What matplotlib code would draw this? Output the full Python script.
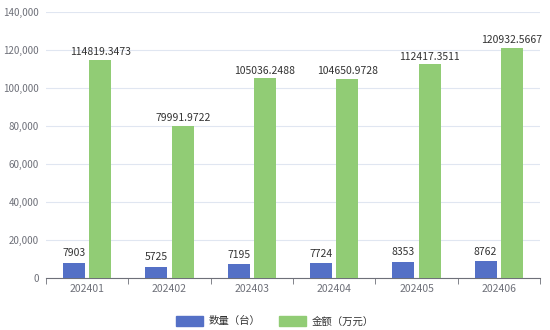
import numpy as np
import matplotlib
matplotlib.use("Agg")
import matplotlib.pyplot as plt
from matplotlib.patches import Patch

plt.rcParams['font.family'] = ['Noto Sans CJK SC', 'DejaVu Sans']

months = ["202401", "202402", "202403", "202404", "202405", "202406"]
qty = [7903, 5725, 7195, 7724, 8353, 8762]
amount = [114819.3473, 79991.9722, 105036.2488, 104650.9728, 112417.3511, 120932.5667]
qty_labels = ["7903", "5725", "7195", "7724", "8353", "8762"]
amount_labels = ["114819.3473", "79991.9722", "105036.2488", "104650.9728", "112417.3511", "120932.5667"]

blue = "#5470c6"
green = "#91cc75"

fig = plt.figure(figsize=(5.5, 3.3), dpi=100)
ax = fig.add_axes([46 / 550, 52 / 330, 494 / 550, 266 / 330])

x = np.arange(len(months))
w = 0.27
gap = 0.025
b1 = ax.bar(x - w / 2 - gap, qty, width=w, color=blue, zorder=3)
b2 = ax.bar(x + w / 2 + gap, amount, width=w, color=green, zorder=3)

for rect, lab in zip(b1, qty_labels):
    ax.text(rect.get_x() + rect.get_width() / 2, rect.get_height() + 2500, lab,
            ha="center", va="bottom", fontsize=7.5, color="#333333")
for rect, lab in zip(b2, amount_labels):
    ax.text(rect.get_x() + rect.get_width() / 2, rect.get_height() + 1500, lab,
            ha="center", va="bottom", fontsize=7.5, color="#333333")

ax.set_xlim(-0.5, len(months) - 0.5)
ax.set_ylim(0, 140000)
ax.set_yticks(np.arange(0, 140001, 20000))
ax.set_yticklabels([f"{v:,}" for v in range(0, 140001, 20000)], fontsize=7, color="#6e7079")
ax.set_xticks(x)
ax.set_xticklabels(months, fontsize=7.5, color="#6e7079")
ax.tick_params(axis="x", length=0, pad=4)
ax.set_xticks(np.arange(-0.5, len(months)), minor=True)
ax.tick_params(axis="x", which="minor", length=4, color="#6e7079", direction="out")
ax.tick_params(axis="y", length=0, pad=5)

ax.grid(axis="y", color="#e0e6f1", linewidth=0.8, zorder=0)
for s in ["top", "right", "left"]:
    ax.spines[s].set_visible(False)
ax.spines["bottom"].set_color("#6e7079")
ax.spines["bottom"].set_linewidth(0.8)

handles = [Patch(color=blue, label="数量（台）"), Patch(color=green, label="金额（万元）")]
fig.legend(handles=handles, loc="center", bbox_to_anchor=(0.5, 9 / 330), ncol=2,
           frameon=False, fontsize=7.5, handlelength=2.6, handleheight=1.2,
           handletextpad=0.5, columnspacing=1.8, labelcolor="#333333")

fig.savefig("out.png", dpi=100)
